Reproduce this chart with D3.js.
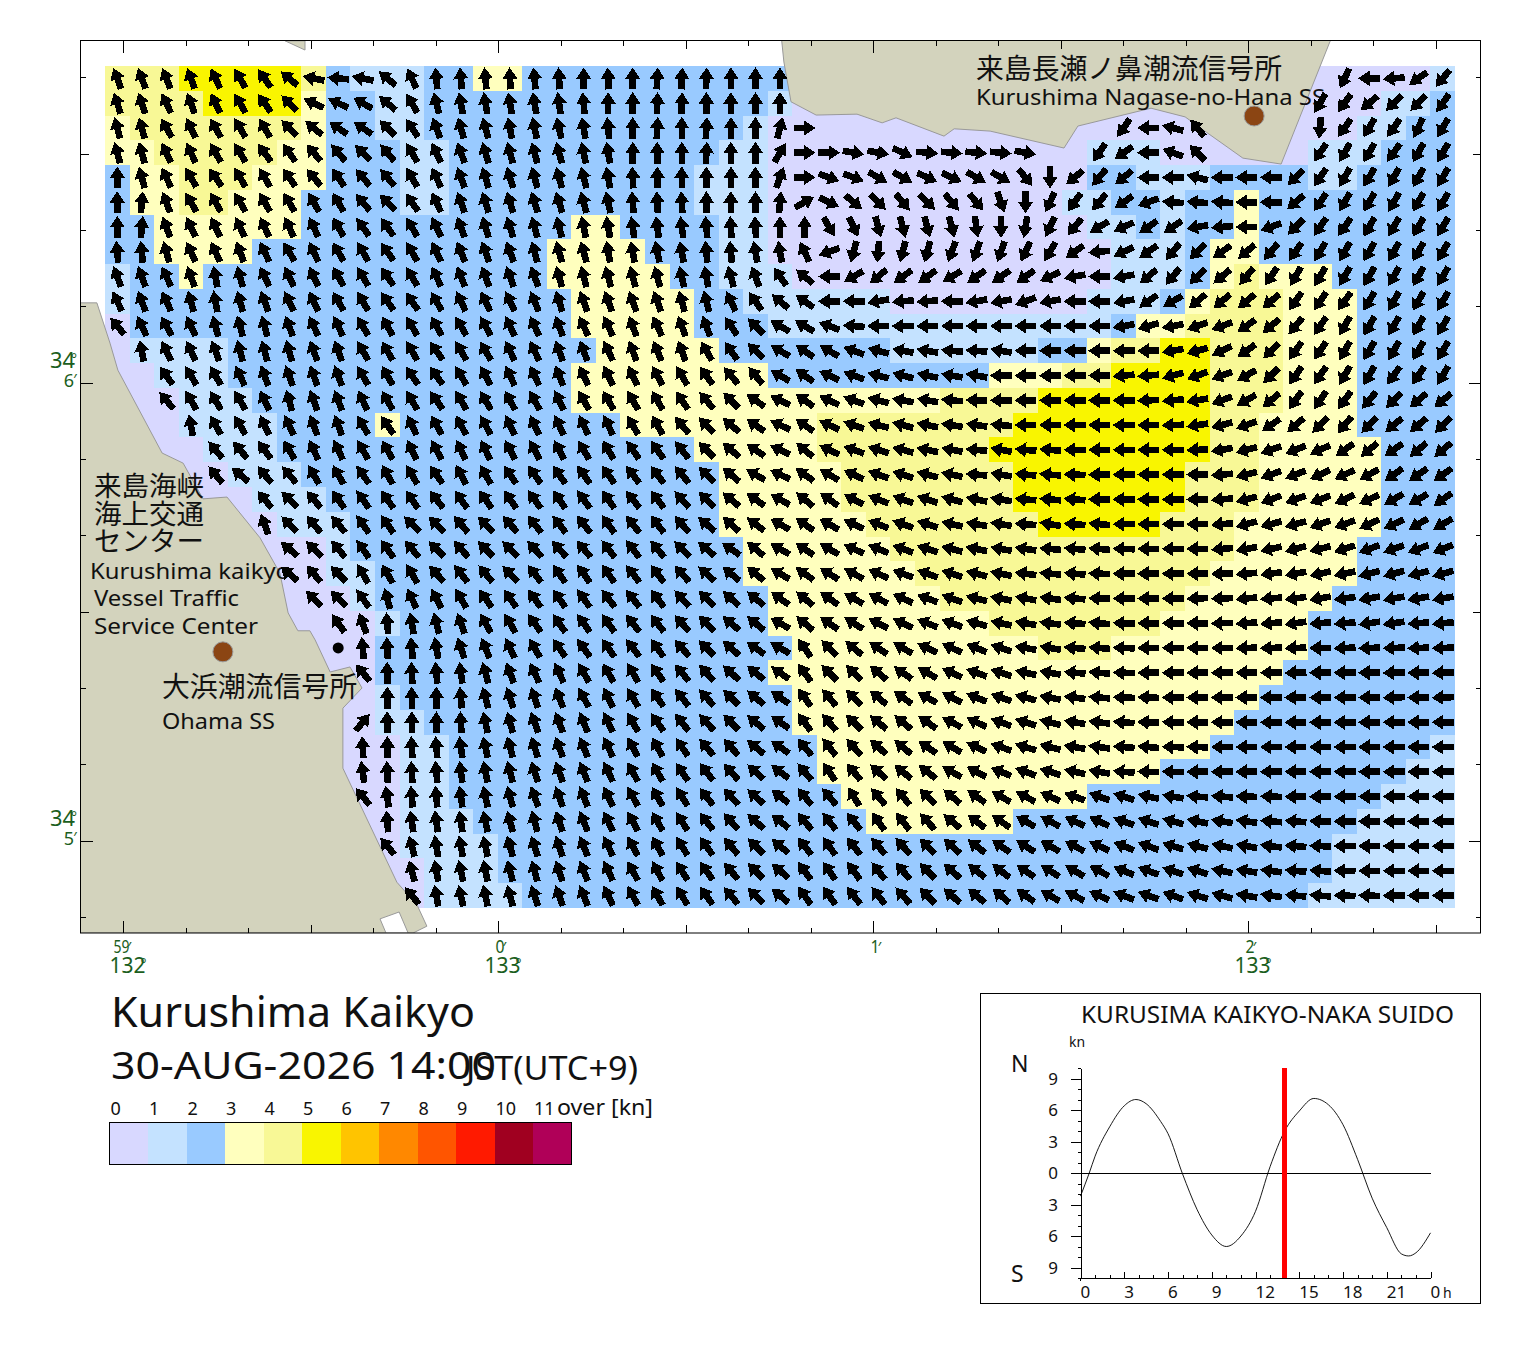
<!DOCTYPE html>
<html><head><meta charset="utf-8">
<script src="https://cdn.jsdelivr.net/npm/d3@7"></script>
<style>
html,body{margin:0;padding:0;background:#fff}
svg{display:block}
text{font-family:"Noto Sans","Noto Sans CJK JP",sans-serif;fill:#111}
.jp{font-family:"Noto Sans CJK JP",sans-serif}
.deg{fill:#1b5e20}
</style></head><body>
<svg id="c" width="1520" height="1353"></svg>
<script>
const _ = null;
const speedColors = ["#d8d8ff","#c4e2ff","#99caff","#ffffbe","#f8f896","#f9f500","#ffc400","#ff8800","#ff5500","#ff1a00","#a00020","#b00058"];
const speedLabels = ["0","1","2","3","4","5","6","7","8","9","10","11"];
// per row: [first column, speed class] runs
const speedRuns = [
[[0,4],[3,5],[8,4],[9,2],[10,1],[13,2],[15,3],[17,2],[28,0],[54,1]],
[[0,4],[4,5],[8,3],[9,2],[11,1],[13,2],[27,1],[28,0],[52,1],[54,2]],
[[0,3],[1,4],[8,3],[9,2],[11,1],[13,2],[26,1],[27,0],[51,1],[53,2]],
[[0,3],[2,4],[7,3],[9,2],[12,1],[14,2],[25,1],[27,0],[40,1],[43,0],[49,1],[52,2]],
[[0,2],[1,3],[3,4],[6,3],[9,2],[12,1],[14,2],[24,1],[27,0],[40,2],[42,1],[45,2],[49,1],[51,2]],
[[0,2],[1,3],[3,4],[5,3],[8,2],[12,1],[14,2],[24,1],[27,0],[39,1],[41,2],[43,1],[44,2],[46,3],[47,2]],
[[0,2],[2,3],[8,2],[19,3],[21,2],[25,1],[27,0],[40,1],[42,2],[43,1],[44,2],[46,3],[47,2]],
[[0,2],[2,3],[6,2],[18,3],[22,2],[25,1],[27,0],[41,1],[44,2],[45,3],[47,2]],
[[0,1],[1,2],[3,3],[4,2],[18,3],[23,2],[25,1],[28,0],[41,1],[44,2],[45,3],[46,4],[47,3],[50,2]],
[[0,1],[1,2],[19,3],[24,2],[26,1],[32,0],[40,1],[43,2],[44,3],[45,4],[48,3],[51,2]],
[[0,0],[1,2],[19,3],[24,2],[27,1],[41,2],[42,3],[44,4],[48,3],[51,2]],
[[0,0],[1,1],[5,2],[20,3],[25,2],[32,1],[38,2],[40,3],[41,4],[43,5],[45,4],[48,3],[51,2]],
[[0,0],[2,1],[5,2],[19,3],[27,2],[36,3],[39,4],[41,5],[45,4],[48,3],[51,2]],
[[0,0],[3,1],[6,2],[19,3],[34,4],[38,5],[45,4],[48,3],[51,2]],
[[0,0],[3,1],[7,2],[11,3],[12,2],[21,3],[29,4],[37,5],[45,4],[47,3],[51,2]],
[[0,0],[4,1],[7,2],[24,3],[29,4],[36,5],[45,4],[47,3],[52,2]],
[[0,0],[5,1],[8,2],[25,3],[30,4],[37,5],[44,4],[47,3],[52,2]],
[[0,0],[6,1],[9,2],[25,3],[30,4],[37,5],[44,4],[47,3],[52,2]],
[[0,0],[7,1],[10,2],[25,3],[31,4],[38,5],[43,4],[46,3],[52,2]],
[[0,0],[9,1],[10,2],[26,3],[32,4],[46,3],[51,2]],
[[0,0],[9,1],[11,2],[26,3],[33,4],[45,3],[51,2]],
[[0,0],[10,1],[11,2],[27,3],[34,4],[44,3],[50,2]],
[[0,0],[11,1],[12,2],[27,3],[36,4],[43,3],[49,2]],
[[0,0],[11,2],[28,3],[38,4],[41,3],[49,2]],
[[0,0],[11,2],[27,3],[48,2]],
[[0,0],[11,1],[12,2],[28,3],[47,2]],
[[0,0],[11,1],[13,2],[28,3],[46,2]],
[[0,0],[12,1],[14,2],[29,3],[45,2],[54,1]],
[[0,0],[12,1],[14,2],[29,3],[43,2],[53,1]],
[[0,0],[12,1],[14,2],[30,3],[40,2],[52,1]],
[[0,0],[12,1],[15,2],[31,3],[37,2],[51,1]],
[[0,0],[12,1],[16,2],[50,1]],
[[0,0],[13,1],[16,2],[50,1]],
[[0,0],[13,1],[17,2],[49,1]]
];
// current heading in degrees clockwise from north; columns 0-12
const headingsWest = [
[-20,-20,-22,-20,-25,-30,-35,-50,-78,-85,-78,-50,-25],
[-18,-18,-25,-20,-25,-30,-35,-45,-65,-65,-60,-50,-30],
[-15,-15,-30,-25,-30,-30,-30,-45,-50,-55,-55,-45,-35],
[-15,-15,-25,-25,-30,-30,-35,-35,-40,-40,-45,-40,-30],
[0,-15,-25,-30,-35,-30,-30,-35,-40,-35,-40,-40,-30],
[0,5,-20,-30,-30,-30,-30,-30,-30,-30,-40,-45,-35],
[0,5,-20,-25,-25,-25,-25,-25,-25,-30,-35,-35,-30],
[-5,-5,-15,-25,-25,-20,-25,-30,-25,-30,-30,-35,-30],
[-20,-20,-25,-20,-10,-15,-25,-25,-25,-30,-30,-35,-30],
[-25,-20,-25,-15,-10,-15,-20,-25,-25,-30,-30,-35,-35],
[-40,-25,-30,-25,-15,-15,-15,-20,-25,-25,-30,-30,-30],
[_,-10,-25,-25,-20,-15,-15,-15,-20,-20,-30,-30,-30],
[_,_,-35,-30,-30,-25,-20,-20,-20,-20,-30,-30,-35],
[_,_,-40,-30,-30,-30,-25,-15,-20,-20,-25,-30,-30],
[_,_,_,-10,-30,-30,-25,-25,-20,-20,-30,-35,-25],
[_,_,_,_,-40,-40,-35,-30,-25,-25,-30,-30,-25],
[_,_,_,_,-40,-50,-40,-40,-30,-30,-35,-30,-30],
[_,_,_,_,_,_,-40,-45,-40,-35,-35,-35,-35],
[_,_,_,_,_,_,-20,-45,-40,-40,-35,-35,-45],
[_,_,_,_,_,_,_,-50,-45,-40,-35,-35,-40],
[_,_,_,_,_,_,_,-50,-40,-45,-30,-30,-30],
[_,_,_,_,_,_,_,_,-45,-45,-35,-15,-25],
[_,_,_,_,_,_,_,_,_,-35,-20,-5,-10],
[_,_,_,_,_,_,_,_,_,_,-5,-3,-5],
[_,_,_,_,_,_,_,_,_,_,-40,0,-3],
[_,_,_,_,_,_,_,_,_,_,_,0,0],
[_,_,_,_,_,_,_,_,_,_,40,0,0],
[_,_,_,_,_,_,_,_,_,_,-3,0,-3],
[_,_,_,_,_,_,_,_,_,_,-8,-3,-3],
[_,_,_,_,_,_,_,_,_,_,-40,-8,-5],
[_,_,_,_,_,_,_,_,_,_,_,-5,-8],
[_,_,_,_,_,_,_,_,_,_,_,-40,-15],
[_,_,_,_,_,_,_,_,_,_,_,_,-15],
[_,_,_,_,_,_,_,_,_,_,_,_,-40]
];
// columns 13-27
const headingsMid = [
[-5,-5,-5,-3,-5,-3,0,-3,0,3,3,2,0,0,0],
[-15,-10,-10,-10,-10,-8,-5,0,0,2,2,0,0,0,0],
[-20,-15,-15,-10,-12,-12,-10,-5,0,3,0,3,0,0,15],
[-25,-20,-17,-15,-15,-15,-12,-10,0,0,0,3,0,0,30],
[-25,-20,-17,-17,-15,-15,-15,-10,-3,0,0,0,0,0,20],
[-25,-20,-17,-17,-17,-17,-15,-12,-5,-3,-3,0,0,0,5],
[-25,-20,-17,-17,-15,-15,-12,-10,-8,-8,-8,-5,-3,-3,0],
[-25,-22,-20,-20,-15,-15,-15,-10,-10,-12,-10,-5,-5,-10,-10],
[-25,-22,-20,-20,-20,-15,-15,-15,-15,-15,-12,-10,-15,-20,-35],
[-30,-25,-25,-25,-22,-17,-20,-20,-20,-20,-15,-15,-25,-35,-50],
[-30,-30,-28,-25,-25,-20,-25,-25,-20,-25,-20,-20,-35,-45,-60],
[-35,-30,-30,-25,-25,-20,-20,-25,-20,-22,-20,-30,-35,-45,-60],
[-35,-30,-28,-25,-25,-22,-25,-25,-25,-28,-30,-35,-40,-40,-60],
[-35,-30,-30,-28,-28,-25,-30,-30,-30,-30,-35,-40,-45,-55,-65],
[-30,-28,-28,-25,-25,-25,-25,-25,-30,-30,-40,-45,-50,-55,-65],
[-28,-25,-25,-28,-28,-28,-30,-30,-35,-35,-38,-45,-50,-55,-65],
[-35,-28,-30,-35,-35,-35,-35,-35,-38,-38,-40,-45,-50,-60,-65],
[-38,-35,-35,-35,-35,-35,-35,-35,-38,-38,-42,-45,-50,-55,-60],
[-45,-40,-45,-42,-38,-38,-38,-35,-38,-38,-42,-50,-48,-52,-60],
[-45,-42,-45,-45,-42,-42,-40,-38,-38,-40,-45,-50,-55,-50,-60],
[-42,-38,-40,-45,-38,-35,-35,-35,-38,-38,-42,-48,-50,-50,-60],
[-28,-30,-35,-35,-35,-35,-35,-38,-38,-38,-42,-45,-48,-50,-55],
[-15,-20,-30,-30,-35,-35,-35,-35,-38,-38,-42,-45,-50,-50,-60],
[-10,-18,-22,-25,-30,-35,-35,-35,-38,-35,-42,-45,-48,-55,-60],
[-5,-8,-15,-20,-25,-25,-30,-30,-30,-35,-40,-42,-48,-50,-55],
[0,-5,-15,-18,-18,-22,-28,-25,-30,-35,-38,-42,-45,-50,-55],
[0,-3,-12,-15,-20,-20,-22,-25,-30,-35,-38,-42,-45,-50,-55],
[-5,-8,-12,-15,-18,-20,-22,-25,-28,-30,-35,-40,-42,-50,-55],
[-5,-8,-12,-15,-18,-20,-22,-25,-28,-30,-35,-38,-42,-48,-52],
[-5,-8,-12,-15,-20,-20,-22,-25,-28,-30,-32,-38,-42,-48,-52],
[-8,-8,-12,-15,-15,-18,-22,-25,-28,-30,-32,-38,-42,-48,-52],
[-10,-10,-12,-15,-18,-18,-22,-25,-28,-30,-32,-35,-40,-45,-50],
[-10,-12,-12,-15,-15,-18,-22,-25,-28,-28,-32,-35,-40,-45,-50],
[-10,-12,-12,-15,-18,-20,-22,-25,-28,-30,-32,-35,-40,-45,-50]
];
// columns 28-54
const headingsEast = [
[_,_,_,_,_,_,_,_,_,_,_,_,_,_,_,_,_,_,_,_,_,_,-155,-90,-95,-125,-140],
[_,_,_,_,_,_,_,_,_,_,_,_,_,_,_,_,_,_,_,_,_,-150,-145,-130,-135,-135,-145],
[90,_,_,_,_,_,_,_,_,_,_,_,_,-145,-90,-75,-40,_,_,_,_,-175,-145,-150,-145,-155,-150],
[90,90,100,100,115,95,95,95,95,100,_,_,-145,-125,-90,-70,-45,_,_,_,_,-145,-150,-150,-145,-150,-150],
[90,110,110,120,120,115,115,120,120,140,180,-130,-140,-130,-90,-90,-75,-90,-90,-90,-135,-145,-150,-150,-150,-150,-150],
[60,115,130,135,140,135,140,140,160,180,-155,-145,-140,-125,-110,-85,-85,-85,-90,-90,-130,-145,-150,-150,-150,-150,-150],
[0,150,155,165,165,165,165,172,180,-170,-155,-140,-120,-115,-125,-125,-100,-95,-90,-110,-135,-145,-145,-150,-150,-150,-150],
[-25,-110,-165,-175,-165,-165,-160,-160,-160,-155,-150,-125,-95,-115,-125,-140,-135,-125,-130,-140,-145,-150,-150,-150,-150,-150,-150],
[-50,-90,-120,-130,-125,-125,-120,-125,-125,-125,-115,-100,-90,-100,-130,-140,-135,-130,-140,-145,-150,-150,-150,-150,-150,-150,-150],
[-55,-90,-90,-100,-95,-95,-90,-100,-100,-110,-100,-90,-90,-100,-125,-120,-130,-130,-130,-130,-145,-145,-145,-150,-150,-150,-150],
[-60,-70,-85,-90,-90,-90,-90,-90,-90,-90,-90,-90,-90,-100,-105,-100,-110,-110,-125,-130,-140,-145,-150,-150,-150,-150,-150],
[-55,-60,-70,-75,-80,-80,-85,-85,-80,-90,-90,-90,-90,-90,-90,-100,-105,-115,-125,-135,-145,-145,-150,-150,-150,-150,-150],
[-55,-65,-70,-75,-75,-78,-80,-80,-90,-90,-90,-90,-90,-95,-95,-105,-110,-110,-120,-135,-145,-145,-150,-150,-145,-145,-150],
[-55,-65,-70,-75,-80,-80,-85,-88,-90,-90,-90,-90,-90,-90,-92,-95,-100,-110,-120,-130,-145,-145,-145,-140,-135,-130,-130],
[-55,-65,-70,-75,-75,-78,-80,-82,-85,-90,-90,-90,-90,-90,-90,-92,-98,-105,-110,-125,-130,-135,-140,-135,-130,-130,-135],
[-50,-65,-70,-72,-75,-78,-80,-85,-80,-85,-85,-90,-90,-90,-90,-90,-92,-100,-105,-110,-112,-115,-125,-130,-125,-130,-130],
[-55,-60,-65,-70,-72,-75,-78,-85,-80,-85,-85,-88,-90,-90,-90,-90,-90,-95,-105,-110,-112,-115,-115,-120,-125,-125,-125],
[-50,-55,-62,-68,-70,-72,-75,-78,-80,-85,-85,-85,-90,-90,-90,-90,-90,-95,-105,-110,-110,-110,-115,-115,-120,-120,-125],
[-55,-60,-65,-68,-70,-72,-78,-80,-80,-85,-80,-85,-85,-90,-90,-90,-90,-95,-105,-105,-105,-110,-110,-115,-115,-120,-120],
[-55,-60,-65,-68,-70,-72,-75,-78,-80,-82,-85,-85,-85,-88,-90,-90,-90,-95,-100,-102,-105,-105,-108,-110,-110,-110,-112],
[-55,-58,-62,-65,-70,-70,-72,-75,-78,-82,-85,-85,-88,-90,-90,-90,-90,-92,-95,-98,-100,-102,-102,-105,-105,-105,-105],
[-50,-55,-60,-62,-65,-70,-70,-75,-78,-80,-82,-85,-88,-90,-90,-90,-92,-92,-95,-95,-98,-100,-98,-100,-100,-100,-100],
[-50,-55,-58,-62,-65,-68,-70,-75,-78,-80,-82,-85,-85,-88,-90,-90,-90,-92,-95,-95,-98,-95,-95,-98,-98,-95,-95],
[-35,-45,-50,-55,-60,-65,-65,-68,-72,-80,-80,-85,-85,-88,-90,-90,-90,-90,-92,-92,-92,-90,-92,-92,-92,-92,-92],
[-35,-45,-45,-50,-55,-60,-65,-70,-72,-78,-80,-85,-85,-88,-90,-90,-90,-90,-90,-90,-92,-90,-90,-90,-92,-90,-92],
[-35,-40,-45,-50,-55,-60,-62,-68,-70,-75,-78,-82,-85,-88,-88,-90,-90,-90,-90,-90,-90,-90,-90,-90,-92,-90,-92],
[-35,-40,-45,-50,-50,-55,-62,-65,-70,-72,-75,-80,-82,-85,-88,-88,-90,-90,-90,-90,-90,-90,-90,-90,-90,-90,-90],
[-40,-38,-42,-48,-50,-55,-60,-65,-70,-72,-75,-80,-82,-85,-85,-88,-88,-90,-90,-90,-90,-90,-90,-90,-90,-90,-90],
[-40,-35,-40,-48,-50,-52,-60,-62,-68,-70,-72,-78,-80,-85,-88,-88,-90,-90,-90,-90,-90,-90,-90,-90,-90,-90,-90],
[-40,-40,-32,-40,-40,-45,-50,-55,-60,-62,-65,-70,-70,-72,-78,-80,-85,-85,-88,-88,-90,-90,-90,-90,-90,-90,-90],
[-40,-38,-38,-35,-38,-42,-50,-52,-55,-60,-62,-65,-65,-70,-72,-75,-78,-80,-82,-85,-85,-88,-90,-90,-90,-90,-90],
[-38,-35,-38,-40,-42,-45,-48,-52,-55,-58,-60,-62,-65,-68,-70,-72,-75,-78,-80,-82,-85,-88,-90,-90,-90,-90,-90],
[-35,-35,-35,-38,-40,-45,-48,-52,-52,-55,-58,-60,-62,-68,-70,-72,-72,-78,-80,-82,-85,-85,-88,-90,-90,-90,-90],
[-35,-35,-38,-38,-42,-45,-48,-50,-50,-55,-60,-62,-65,-68,-70,-70,-72,-75,-80,-82,-85,-85,-88,-88,-90,-90,-90]
];
const slackCells = [[23,9]];
// coastlines, in minutes east of 133°00' and minutes north of 34°05'
const landKurushima = [[.755,1.749],[.761,1.701],[.780,1.614],[.847,1.585],[.956,1.587],[1.023,1.568],[1.060,1.579],[1.188,1.539],[1.215,1.555],[1.311,1.550],[1.508,1.513],[1.545,1.561],[1.740,1.600],[1.831,1.581],[1.887,1.548],[1.985,1.491],[2.087,1.478],[2.217,1.745],[2.220,1.749]];
const landIslet = [[-.569,1.747],[-.516,1.727],[-.516,1.747]];
const landWest = [[-1.115,1.175],[-1.071,1.175],[-1.036,1.087],[-1.015,1.028],[-.897,.847],[-.841,.825],[-.788,.747],[-.724,.751],[-.636,.662],[-.583,.585],[-.561,.498],[-.535,.459],[-.503,.459],[-.489,.439],[-.449,.369],[-.396,.380],[-.364,.334],[-.415,.290],[-.415,.159],[-.271,-.090],[-.217,-.140],[-.191,-.186],[-.228,-.201],[-1.115,-.201]];
const harbourNotch = [[-.316,-.170],[-.265,-.155],[-.241,-.201],[-.300,-.201]];
const stations = [[2.015,1.583],[-.735,.413]];
const tideHours = [0,0.6,1,2,3,3.8,4.5,5.5,6,7,8,9,10,11,12,13,14,15,16,17,18,19,20,21,22,22.5,23,24];
const tideKnots = [-2.2,0,1.6,4.4,6.4,7,6.6,4.9,3.75,-.1,-3.5,-5.9,-7,-6,-3.65,.6,4,5.9,7.1,6.5,4.6,1.3,-2.4,-5.2,-7.7,-7.9,-7.6,-5.7];
const nowHour = 14;
const hourTicks = [0,3,6,9,12,15,18,21,24];
const hourTickLabels = ["0","3","6","9","12","15","18","21","0"];
const knotTicks = [9,6,3,0,-3,-6,-9];

const svg = d3.select("#c");
const W=80.5,E=1480.5,N=40.5,S=933;
const gridX = d3.scaleLinear([0,55],[105,1455]);
const gridY = d3.scaleLinear([0,34],[66,908]);
const lon = d3.scaleLinear([-1,2],[123.5,1248.5]);
const lat = d3.scaleLinear([0,1],[841,383]);
const geo = d3.line().x(d=>lon(d[0])).y(d=>lat(d[1]));

svg.append("defs").append("clipPath").attr("id","map").append("rect")
  .attr("x",W).attr("y",N).attr("width",E-W).attr("height",S-N);
const map = svg.append("g").attr("clip-path","url(#map)");

// speed cells
const cells = speedRuns.flatMap((runs,r)=>runs.map((run,i)=>({
  r, c0:run[0], c1:i+1<runs.length?runs[i+1][0]:55, level:run[1]})));
map.append("g").attr("shape-rendering","crispEdges").selectAll("rect").data(cells).join("rect")
  .attr("x",d=>gridX(d.c0)).attr("y",d=>gridY(d.r))
  .attr("width",d=>gridX(d.c1)-gridX(d.c0)).attr("height",d=>gridY(d.r+1)-gridY(d.r))
  .attr("fill",d=>speedColors[d.level]);

// land
const landG = map.append("g");
[landKurushima,landIslet,landWest].forEach(p=>{
  landG.append("path").attr("d",geo(p)+"Z").attr("fill","#d3d3bd").attr("stroke","#999").attr("stroke-width",1);
});
landG.append("path").attr("d",geo(harbourNotch)+"Z").attr("fill","#fff").attr("stroke","#999").attr("stroke-width",1);
landG.selectAll("circle").data(stations).join("circle")
  .attr("cx",d=>lon(d[0])).attr("cy",d=>lat(d[1])).attr("r",10)
  .attr("fill","#8b4513").attr("stroke","#999").attr("stroke-width",1);

// labels on the land
const mapText = [
 ["来島長瀬ノ鼻潮流信号所",976,79,28,306,1],
 ["Kurushima Nagase-no-Hana SS",976,105,21,349,0],
 ["来島海峡",94,496,27,110,1],
 ["海上交通",94,524,27,110,1],
 ["センター",94,551,27,110,1],
 ["Kurushima kaikyo",90,579,22,200,0],
 ["Vessel Traffic",94,606,22,145,0],
 ["Service Center",94,634,22,164,0],
 ["大浜潮流信号所",162,697,28,195,1],
 ["Ohama SS",162,729,22,113,0]
];
svg.append("g").selectAll("text").data(mapText).join("text")
  .attr("class",d=>d[5]?"jp":null)
  .attr("x",d=>d[1]).attr("y",d=>d[2]).attr("font-size",d=>d[3])
  .attr("textLength",d=>d[4]).attr("lengthAdjust","spacingAndGlyphs").text(d=>d[0]);

// arrows
const arrow = d3.path();
[[0,-11],[7.6,0.5],[3.3,0.5],[3.3,11],[-3.3,11],[-3.3,0.5],[-7.6,0.5]].forEach((p,i)=>i?arrow.lineTo(p[0],p[1]):arrow.moveTo(p[0],p[1]));
arrow.closePath();
const arrows = [];
headingsWest.forEach((row,r)=>{
  row.concat(headingsMid[r],headingsEast[r]).forEach((h,c)=>{ if(h!==null) arrows.push({r,c,h}); });
});
svg.append("g").attr("shape-rendering","crispEdges").selectAll("path").data(arrows).join("path")
  .attr("d",arrow.toString()).attr("fill","#000")
  .attr("transform",d=>`translate(${gridX(d.c+.5)},${gridY(d.r+.5)}) rotate(${d.h})`);
svg.append("g").selectAll("circle").data(slackCells).join("circle")
  .attr("cx",d=>gridX(d[1]+.5)).attr("cy",d=>gridY(d[0]+.5)).attr("r",5.5).attr("fill","#000");

// frame and graticule ticks
svg.append("rect").attr("x",W).attr("y",N).attr("width",E-W).attr("height",S-N).attr("fill","none").attr("stroke","#000");
const lonTicks = d3.range(0,22), latTicks = d3.range(-1,11);
const tickLen = k => { const m=((k%6)+6)%6; return m===0?12:m===3?8:5; };
const tg = svg.append("g").attr("stroke","#000").attr("shape-rendering","crispEdges");
lonTicks.forEach(k=>{ const x=lon(-1+k/6);
  tg.append("line").attr("x1",x).attr("x2",x).attr("y1",N).attr("y2",N+tickLen(k));
  tg.append("line").attr("x1",x).attr("x2",x).attr("y1",S).attr("y2",S-tickLen(k));
});
latTicks.forEach(k=>{ const y=lat(k/6);
  tg.append("line").attr("y1",y).attr("y2",y).attr("x1",W).attr("x2",W+tickLen(k));
  tg.append("line").attr("y1",y).attr("y2",y).attr("x1",E).attr("x2",E-tickLen(k));
});
// graticule labels
const lonLabels = [[-1,"59","132"],[0,"0","133"],[1,"1",""],[2,"2","133"]];
lonLabels.forEach(d=>{
  const x=lon(d[0]);
  const g=svg.append("g");
  g.append("text").attr("class","deg").attr("x",x+(d[1].length>1?-10:-3)).attr("y",953).attr("font-size",18)
    .attr("textLength",d[1].length>1?16:9).attr("lengthAdjust","spacingAndGlyphs").text(d[1]);
  g.append("text").attr("class","deg").attr("x",x+6).attr("y",952).attr("text-anchor","middle").attr("font-size",15).text("′");
  if(d[2]){
    g.append("text").attr("class","deg").attr("x",x-14).attr("y",973).attr("font-size",21)
      .attr("textLength",36).attr("lengthAdjust","spacingAndGlyphs").text(d[2]);
    g.append("text").attr("class","deg").attr("x",x+20).attr("y",969).attr("text-anchor","middle").attr("font-size",14).text("°");
  }
});
[[1,"6"],[0,"5"]].forEach(d=>{
  const y=lat(d[0]);
  svg.append("text").attr("class","deg").attr("x",50).attr("y",y-15).attr("font-size",21)
    .attr("textLength",25).attr("lengthAdjust","spacingAndGlyphs").text("34");
  svg.append("text").attr("class","deg").attr("x",74).attr("y",y-19).attr("text-anchor","middle").attr("font-size",14).text("°");
  svg.append("text").attr("class","deg").attr("x",74).attr("y",y+4).attr("text-anchor","end").attr("font-size",18).text(d[1]);
  svg.append("text").attr("class","deg").attr("x",75).attr("y",y+1).attr("text-anchor","middle").attr("font-size",15).text("′");
});

// titles
const addT=(s,x,y,fs,len)=>svg.append("text").attr("x",x).attr("y",y).attr("font-size",fs).attr("textLength",len).attr("lengthAdjust","spacingAndGlyphs").text(s);
addT("Kurushima Kaikyo",111,1027,42,364);
addT("30-AUG-2026 14:00",111,1079,39,385);
addT("JST(UTC+9)",466,1080,32,172);

// speed legend
const legendX = d3.scaleLinear([0,12],[109.5,571.5]);
svg.append("g").attr("shape-rendering","crispEdges").selectAll("rect").data(speedColors).join("rect")
  .attr("x",(d,i)=>legendX(i)).attr("y",1122.5).attr("width",(d,i)=>legendX(i+1)-legendX(i)).attr("height",42).attr("fill",d=>d);
svg.append("rect").attr("x",legendX(0)).attr("y",1122.5).attr("width",legendX(12)-legendX(0)).attr("height",42).attr("fill","none").attr("stroke","#000").attr("shape-rendering","crispEdges");
svg.append("g").selectAll("text").data(speedLabels).join("text")
  .attr("x",(d,i)=>legendX(i)+1).attr("y",1115).attr("font-size",18).text(d=>d);
addT("over [kn]",557,1115,22,96);

// tide panel
svg.append("rect").attr("x",980.5).attr("y",993.5).attr("width",500).attr("height",310).attr("fill","none").attr("stroke","#000").attr("shape-rendering","crispEdges");
const tx = d3.scaleLinear([0,24],[1080.5,1430.5]);
const ty = d3.scaleLinear([-10,10],[1278,1068]);
const tg2 = svg.append("g");
tg2.append("g").attr("transform",`translate(${tx(0)},0)`).call(d3.axisLeft(ty).tickValues(d3.range(-10,11)).tickSize(3).tickFormat("").tickSizeOuter(0));
tg2.append("g").attr("transform",`translate(${tx(0)},0)`).call(d3.axisLeft(ty).tickValues(knotTicks).tickSize(10).tickFormat("").tickSizeOuter(0));
tg2.append("g").attr("transform",`translate(0,${ty(-10)})`).call(d3.axisBottom(tx).tickValues(d3.range(0,25)).tickSize(-3).tickFormat("").tickSizeOuter(0));
tg2.append("g").attr("transform",`translate(0,${ty(-10)})`).call(d3.axisBottom(tx).tickValues(hourTicks).tickSize(-6).tickFormat("").tickSizeOuter(0));
tg2.selectAll("line,path").attr("shape-rendering","crispEdges").attr("stroke","#000");
tg2.append("line").attr("x1",tx(0)).attr("x2",tx(0)).attr("y1",ty(-10)).attr("y2",ty(-10)+3).attr("stroke","#000").attr("shape-rendering","crispEdges");
tg2.append("line").attr("x1",tx(0)).attr("x2",tx(24)).attr("y1",ty(0)).attr("y2",ty(0)).attr("stroke","#000").attr("shape-rendering","crispEdges");
svg.append("path").attr("fill","none").attr("stroke","#000").attr("stroke-width",.9)
  .attr("d",d3.line().x((d,i)=>tx(tideHours[i])).y(d=>ty(d)).curve(d3.curveMonotoneX)(tideKnots));
svg.append("rect").attr("x",tx(nowHour)-2.5).attr("y",ty(10)).attr("width",4.6).attr("height",ty(-10)-ty(10)).attr("fill","#ff0000").attr("shape-rendering","crispEdges");
svg.append("g").selectAll("text").data(knotTicks).join("text")
  .attr("x",1058).attr("y",d=>ty(d)+6).attr("text-anchor","end").attr("font-size",17).text(d=>Math.abs(d));
svg.append("g").selectAll("text").data(hourTicks).join("text")
  .attr("x",d=>tx(d)).attr("y",1298).attr("font-size",17).text((d,i)=>hourTickLabels[i]);
svg.append("text").attr("x",1443).attr("y",1298).attr("font-size",14).text("h");
addT("KURUSIMA KAIKYO-NAKA SUIDO",1081,1023,23,373);
svg.append("text").attr("x",1069).attr("y",1047).attr("font-size",14).text("kn");
svg.append("text").attr("x",1011).attr("y",1072).attr("font-size",23).text("N");
svg.append("text").attr("x",1011).attr("y",1282).attr("font-size",23).text("S");
</script>
</body></html>
